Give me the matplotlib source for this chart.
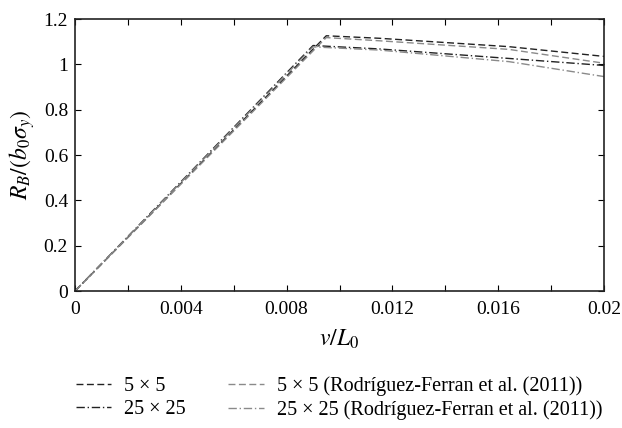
import matplotlib
matplotlib.use("Agg")
import matplotlib.pyplot as plt
from matplotlib.ticker import MultipleLocator, FuncFormatter

plt.rcParams["font.family"] = "Liberation Serif"
plt.rcParams["mathtext.fontset"] = "stix"

# --- data -----------------------------------------------------------------
x_5 = [0, 0.0095, 0.0115, 0.0164, 0.02]
y_5 = [0, 1.126, 1.115, 1.078, 1.035]
x_5_rf = [0, 0.0095, 0.0115, 0.0164, 0.02]
y_5_rf = [0, 1.118, 1.104, 1.066, 1.005]
x_25 = [0, 0.0090, 0.0115, 0.0164, 0.02]
y_25 = [0, 1.083, 1.068, 1.026, 0.995]
x_25_rf = [0, 0.0090, 0.0115, 0.0164, 0.02]
y_25_rf = [0, 1.077, 1.063, 1.012, 0.946]

labels = ["5 × 5", "25 × 25",
          "5 × 5 (Rodríguez-Ferran et al. (2011))",
          "25 × 25 (Rodríguez-Ferran et al. (2011))"]

fig = plt.figure(figsize=(6.22, 4.28), dpi=100)
ax = fig.add_axes([75 / 622, 1 - 291 / 428, 529 / 622, 272 / 428])

dark, grey = "#222222", "#8a8a8a"
l1, = ax.plot(x_5, y_5, color=dark, lw=1.0, dashes=(5, 2.5))
l2, = ax.plot(x_5_rf, y_5_rf, color=grey, lw=1.0, dashes=(5, 2.5))
l3, = ax.plot(x_25, y_25, color=dark, lw=1.0, dashes=(6, 2, 1, 2))
l4, = ax.plot(x_25_rf, y_25_rf, color=grey, lw=1.0, dashes=(6, 2, 1, 2))

ax.set_xlim(0, 0.02)
ax.set_ylim(0, 1.2)
ax.xaxis.set_major_locator(MultipleLocator(0.004))
ax.xaxis.set_minor_locator(MultipleLocator(0.002))
ax.yaxis.set_major_locator(MultipleLocator(0.2))
fmt = FuncFormatter(lambda v, p: "%g" % round(v, 6))
ax.xaxis.set_major_formatter(fmt)
ax.yaxis.set_major_formatter(fmt)
ax.tick_params(which="both", direction="in", top=True, right=True,
               length=4, width=0.8, labelsize=14)
ax.tick_params(axis="x", pad=7)
ax.tick_params(axis="y", pad=5)
for s in ax.spines.values():
    s.set_linewidth(1.2)
    s.set_color("#222222")

ax.set_xlabel(r"$v/L_0$", fontsize=17, labelpad=7)
ax.set_ylabel(r"$R_B/(b_0\sigma_y)$", fontsize=17, labelpad=5)

fig.legend([l1, l3, l2, l4], labels, ncol=2, loc="lower left",
           bbox_to_anchor=(58 / 622, -10 / 428), frameon=False, fontsize=14.5,
           handlelength=1.75, handletextpad=0.65, columnspacing=2.1,
           labelspacing=0.2)

fig.savefig("out.png", dpi=100)
